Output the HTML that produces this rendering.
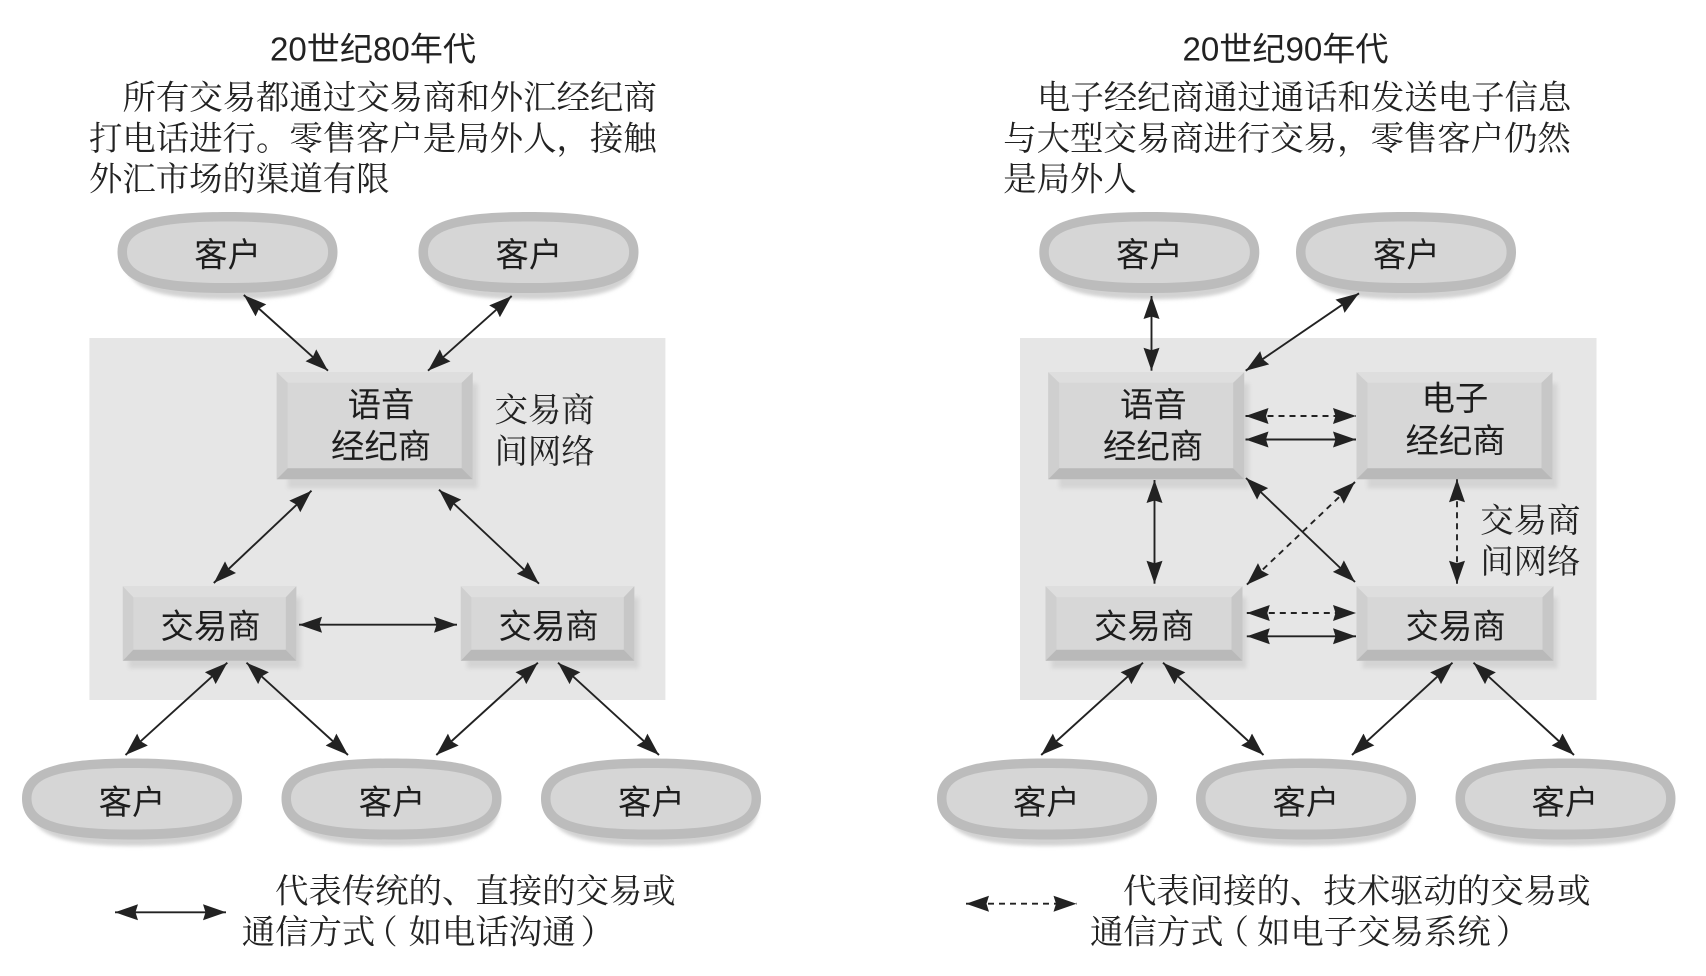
<!DOCTYPE html>
<html lang="zh">
<head>
<meta charset="utf-8">
<title>外汇市场结构</title>
<style>
html,body{margin:0;padding:0;background:#fff;width:1706px;height:976px;overflow:hidden}
svg{display:block}
.s{font-family:"Liberation Serif","Noto Serif CJK SC",serif;font-size:33.4px;fill:#222}
.h{font-family:"Liberation Sans","Noto Sans CJK SC",sans-serif;font-size:33.4px;fill:#1d1d1d}
.t{font-family:"Liberation Sans","Noto Sans CJK SC",sans-serif;font-size:33px;fill:#222}
.l{stroke:#222;stroke-width:1.9;fill:none;marker-start:url(#a);marker-end:url(#a)}
.d{stroke-dasharray:6 5}
</style>
</head>
<body>
<svg xmlns="http://www.w3.org/2000/svg" width="1706" height="976" viewBox="0 0 1706 976">
<defs>
<marker id="a" markerUnits="userSpaceOnUse" markerWidth="24" markerHeight="18" viewBox="0 0 24 18" refX="23" refY="9" orient="auto-start-reverse">
<path d="M23 9L0 1L2.5 9L0 17Z" fill="#222"/>
</marker>
<filter id="b" x="-10%" y="-20%" width="120%" height="140%"><feGaussianBlur stdDeviation="2"/></filter>
<path id="o" d="M0 40C0 12 30 0 110 0C190 0 220 12 220 40C220 69 190 81 110 81C30 81 0 69 0 40Z"/>
<g id="c">
<use href="#o" transform="translate(8 8) scale(.95 .98)" fill="#d2d2d2" filter="url(#b)"/>
<use href="#o" fill="#bcbcbc"/>
<use href="#o" transform="translate(9.5 9.5) scale(.914 .76)" fill="#d6d6d6"/>
</g>
<g id="k">
<rect x="11" y="11" width="190" height="105" fill="#d4d4d4" filter="url(#b)"/>
<rect width="196" height="107" fill="#d7d7d7"/>
<path d="M0 0H196L185 10.5H11Z" fill="#dedede"/>
<path d="M0 0L11 10.5V96L0 107Z" fill="#cfcfcf"/>
<path d="M196 0L185 10.5V96L196 107Z" fill="#c7c7c7"/>
<path d="M0 107L11 96H185L196 107Z" fill="#b9b9b9"/>
</g>
<g id="m">
<rect x="6" y="11" width="172" height="71" fill="#d4d4d4" filter="url(#b)"/>
<rect width="173.5" height="74.5" fill="#d7d7d7"/>
<path d="M0 0H173.5L163 11H10.5Z" fill="#dedede"/>
<path d="M0 0L10.5 11V63.5L0 74.5Z" fill="#cfcfcf"/>
<path d="M173.5 0L163 11V63.5L173.5 74.5Z" fill="#c7c7c7"/>
<path d="M0 74.5L10.5 63.5H163L173.5 74.5Z" fill="#b9b9b9"/>
</g>
<g id="n">
<rect x="6" y="11" width="195" height="71" fill="#d4d4d4" filter="url(#b)"/>
<rect width="197" height="74.5" fill="#d7d7d7"/>
<path d="M0 0H197L186 11H11Z" fill="#dedede"/>
<path d="M0 0L11 11V63.5L0 74.5Z" fill="#cfcfcf"/>
<path d="M197 0L186 11V63.5L197 74.5Z" fill="#c7c7c7"/>
<path d="M0 74.5L11 63.5H186L197 74.5Z" fill="#b9b9b9"/>
</g>
</defs>

<rect width="1706" height="976" fill="#fff"/>
<rect x="89.4" y="338" width="576" height="362" fill="#e6e6e6"/>
<rect x="1020" y="338" width="576.5" height="362" fill="#e6e6e6"/>

<!-- left nodes -->
<use href="#c" x="117.5" y="212"/>
<use href="#c" x="418.5" y="212"/>
<use href="#c" x="22" y="758.5"/>
<use href="#c" x="281.5" y="758.5"/>
<use href="#c" x="541" y="758.5"/>
<use href="#k" x="276.7" y="372.3"/>
<use href="#m" x="122.8" y="586.3"/>
<use href="#m" x="460.8" y="586.3"/>

<!-- right nodes -->
<use href="#c" x="1039.3" y="212"/>
<use href="#c" x="1296" y="212"/>
<use href="#c" x="937" y="758.5"/>
<use href="#c" x="1196" y="758.5"/>
<use href="#c" x="1455.5" y="758.5"/>
<use href="#k" x="1048.2" y="372.3"/>
<use href="#k" x="1356.5" y="372.3"/>
<use href="#n" x="1045.5" y="586.3"/>
<use href="#n" x="1356.5" y="586.3"/>

<!-- left connectors -->
<path class="l" d="M243.8 295L328 370.7"/>
<path class="l" d="M511.7 296L428 370.7"/>
<path class="l" d="M311.5 490.7L213.8 583"/>
<path class="l" d="M439 489.7L539 583.7"/>
<path class="l" d="M299 624.7H457"/>
<path class="l" d="M227.3 662.7L125.5 755"/>
<path class="l" d="M246.5 662.7L348 755"/>
<path class="l" d="M537.9 662.7L436.3 755"/>
<path class="l" d="M558 662.7L659 755"/>
<path class="l" d="M115 912.3H226"/>

<!-- right connectors -->
<path class="l" d="M1151.5 296V370.7"/>
<path class="l" d="M1359 293.3L1245.7 370.7"/>
<path class="l d" d="M1245.5 416H1356"/>
<path class="l" d="M1245.5 439.5H1356"/>
<path class="l" d="M1154.5 480V583.7"/>
<path class="l" d="M1246 478L1355 582"/>
<path class="l d" d="M1355 482L1246.8 584.7"/>
<path class="l d" d="M1457 479.3V583.7"/>
<path class="l d" d="M1246.8 613H1356"/>
<path class="l" d="M1246.8 636.3H1356"/>
<path class="l" d="M1143 662.7L1041.2 755"/>
<path class="l" d="M1163 662.7L1263.5 755"/>
<path class="l" d="M1452.5 662.7L1352 755"/>
<path class="l" d="M1473.5 662.7L1574 755"/>
<path class="l d" d="M966 903.7H1076.5"/>

<!-- left text -->
<text class="t" x="270" y="60.5" textLength="206" lengthAdjust="spacingAndGlyphs">20世纪80年代</text>
<text class="s" x="122.5" y="109">所有交易都通过交易商和外汇经纪商</text>
<text class="s" x="89" y="150">打电话进行。零售客户是局外人，接触</text>
<text class="s" x="89" y="190.7">外汇市场的渠道有限</text>
<text class="h" x="194.3" y="266.5">客户</text>
<text class="h" x="495.5" y="266.5">客户</text>
<text class="h" x="98.6" y="814">客户</text>
<text class="h" x="358.6" y="814">客户</text>
<text class="h" x="618" y="814">客户</text>
<text class="h" x="347.6" y="416.5">语音</text>
<text class="h" x="331" y="458">经纪商</text>
<text class="h" x="160.5" y="638">交易商</text>
<text class="h" x="498.5" y="638">交易商</text>
<text class="s" x="494.5" y="421.7">交易商</text>
<text class="s" x="494.5" y="463">间网络</text>
<text class="s" x="275" y="902.5">代表传统的、直接的交易或</text>
<text class="s" x="241.7" y="943.5">通信方式<tspan dx="-11">（</tspan><tspan dx="11">如电话沟通</tspan><tspan dx="5">）</tspan></text>

<!-- right text -->
<text class="t" x="1182.5" y="60.5" textLength="206" lengthAdjust="spacingAndGlyphs">20世纪90年代</text>
<text class="s" x="1037" y="109">电子经纪商通过通话和发送电子信息</text>
<text class="s" x="1003.2" y="150">与大型交易商进行交易，零售客户仍然</text>
<text class="s" x="1003.2" y="190.7">是局外人</text>
<text class="h" x="1116" y="266.5">客户</text>
<text class="h" x="1373" y="266.5">客户</text>
<text class="h" x="1013" y="814">客户</text>
<text class="h" x="1272.5" y="814">客户</text>
<text class="h" x="1531.5" y="814">客户</text>
<text class="h" x="1120" y="416.5">语音</text>
<text class="h" x="1103" y="458">经纪商</text>
<text class="h" x="1421.5" y="410">电子</text>
<text class="h" x="1405.5" y="452.5">经纪商</text>
<text class="h" x="1094" y="638">交易商</text>
<text class="h" x="1405.5" y="638">交易商</text>
<text class="s" x="1480.2" y="532">交易商</text>
<text class="s" x="1480.2" y="573">间网络</text>
<text class="s" x="1123" y="902.5">代表间接的、技术驱动的交易或</text>
<text class="s" x="1090" y="943.5">通信方式<tspan dx="-8">（</tspan><tspan dx="8">如电子交易系统</tspan><tspan dx="5">）</tspan></text>
</svg>
</body>
</html>
